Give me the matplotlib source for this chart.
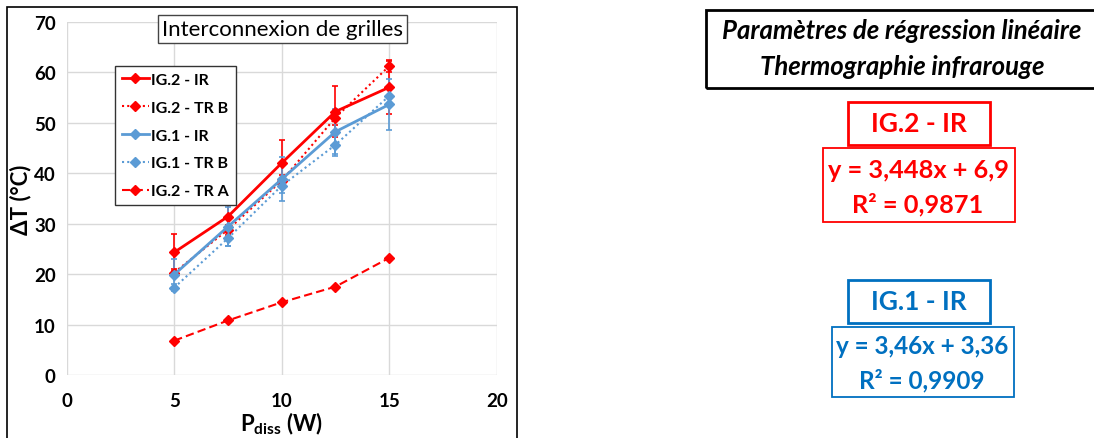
import matplotlib
matplotlib.use("Agg")
import matplotlib.pyplot as plt
from matplotlib.patches import Rectangle

# ---- data ----
x = [5, 7.5, 10, 12.5, 15]
ig2_ir = [24.3, 31.4, 42.0, 52.2, 57.0]
ig2_ir_err = [3.6, 4.0, 4.6, 5.1, 5.3]
ig2_trb = [20.3, 28.8, 38.5, 51.0, 61.2]
ig2_trb_err = [0.8, 1.0, 1.2, 1.5, 1.2]
ig1_ir = [19.9, 29.4, 38.8, 48.2, 53.6]
ig1_ir_err = [3.0, 3.8, 4.3, 4.5, 5.1]
ig1_trb = [17.3, 27.1, 37.5, 45.6, 55.3]
ig1_trb_err = [0.7, 1.6, 1.5, 2.2, 1.5]
ig2_tra = [6.8, 10.8, 14.4, 17.5, 23.2]

xticks = [0, 5, 10, 15, 20]
yticks = [0, 10, 20, 30, 40, 50, 60, 70]

RED = "#FF0000"
BLUE = "#5B9BD5"
TBLUE = "#0070C0"

W, H = 1094, 439
fig = plt.figure(figsize=(W / 100, H / 100), dpi=100)
plt.rcParams['font.family'] = ['Lato', 'DejaVu Sans']

def fx(px):
    return px / W

def fy(py):
    return 1 - py / H

# left panel frame
fig.patches.append(Rectangle((fx(7), fy(445)), fx(510), fy(8) - fy(445),
                             transform=fig.transFigure, fill=False,
                             edgecolor="black", linewidth=1.2))

ax = fig.add_axes([fx(66.7), fy(376), fx(496.7) - fx(66.7), fy(22.7) - fy(376)])
ax.set_xlim(0, 20)
ax.set_ylim(0, 70)
ax.set_xticks(xticks)
ax.set_yticks(yticks)
ax.grid(True, color="#D9D9D9", linewidth=1)
ax.set_axisbelow(True)
for s in ax.spines.values():
    s.set_visible(False)
ax.tick_params(length=0, labelsize=13.5, pad=8)
for lab in ax.get_xticklabels() + ax.get_yticklabels():
    lab.set_fontweight("bold")
ax.tick_params(axis='x', pad=12)

ekw = dict(fmt="none", capsize=2, elinewidth=1.2, capthick=1.2)
ax.errorbar(x, ig2_ir, yerr=ig2_ir_err, ecolor=RED, **ekw)
ax.errorbar(x, ig2_trb, yerr=ig2_trb_err, ecolor=RED, **ekw)
ax.errorbar(x, ig1_ir, yerr=ig1_ir_err, ecolor=BLUE, **ekw)
ax.errorbar(x, ig1_trb, yerr=ig1_trb_err, ecolor=BLUE, **ekw)

ax.plot(x, ig2_ir, color=RED, lw=2, marker="D", ms=5, label="IG.2 - IR")
ax.plot(x, ig2_trb, color=RED, lw=1.5, ls=(0, (1, 1.5)), marker="D", ms=5,
        label="IG.2 - TR B")
ax.plot(x, ig1_ir, color=BLUE, lw=2, marker="D", ms=5, label="IG.1 - IR")
ax.plot(x, ig1_trb, color=BLUE, lw=1.5, ls=(0, (1, 1.5)), marker="D", ms=5,
        label="IG.1 - TR B")
ax.plot(x, ig2_tra, color=RED, lw=1.5, ls=(0, (4, 2)), marker="D", ms=5,
        label="IG.2 - TR A")

leg = ax.legend(loc="upper left", bbox_to_anchor=((114.7 - 66.7) / 430, (376 - 66.7) / 353.3),
                borderaxespad=0,
                frameon=True, fancybox=False, edgecolor="#333333", framealpha=1,
                prop={"weight": "bold", "size": 11.5}, handlelength=1.7,
                handletextpad=0.15, labelspacing=0.85, borderpad=0.45)
leg.get_frame().set_linewidth(1)

ax.set_ylabel("ΔT (°C)", fontsize=16, fontweight="bold", labelpad=2)
ax.set_xlabel(r"P$_{\mathregular{diss}}$ (W)", fontsize=16, fontweight="bold", labelpad=1)

# title box
fig.text(fx(282), fy(30), "Interconnexion de grilles", ha="center", va="center",
         fontsize=16, color="black",
         bbox=dict(boxstyle="square,pad=0.18", facecolor="white", edgecolor="#444444", linewidth=1))

# right panel
def box(x0, y0, x1, y1, color, lw=1.5):
    fig.patches.append(Rectangle((fx(x0), fy(y1)), fx(x1 - x0), fy(y0) - fy(y1),
                                 transform=fig.transFigure, fill=False,
                                 edgecolor=color, linewidth=lw))

box(705.7, 11, 1100, 89, "black", 2)
fig.text(fx(902), fy(31), "Paramètres de régression linéaire", ha="center", va="center",
         fontsize=18.5, fontweight="bold", fontstyle="italic")
fig.text(fx(902), fy(67), "Thermographie infrarouge", ha="center", va="center",
         fontsize=18.5, fontweight="bold", fontstyle="italic")

box(847.7, 103, 990, 146, RED, 2)
fig.text(fx(919), fy(124), "IG.2 - IR", ha="center", va="center",
         fontsize=19, fontweight="bold", color=RED)
box(822.7, 148.7, 1015.3, 223, RED, 1.3)
fig.text(fx(918), fy(170), "y = 3,448x + 6,9", ha="center", va="center",
         fontsize=18.3, fontweight="bold", color=RED)
fig.text(fx(918), fy(205), "R² = 0,9871", ha="center", va="center",
         fontsize=18.3, fontweight="bold", color=RED)

box(847.7, 281, 990, 324, TBLUE, 2)
fig.text(fx(919), fy(302), "IG.1 - IR", ha="center", va="center",
         fontsize=19, fontweight="bold", color=TBLUE)
box(831.7, 328, 1014.3, 398, TBLUE, 1.3)
fig.text(fx(922), fy(347), "y = 3,46x + 3,36", ha="center", va="center",
         fontsize=17.5, fontweight="bold", color=TBLUE)
fig.text(fx(922), fy(381), "R² = 0,9909", ha="center", va="center",
         fontsize=17.5, fontweight="bold", color=TBLUE)

fig.savefig("out.png", dpi=100)
